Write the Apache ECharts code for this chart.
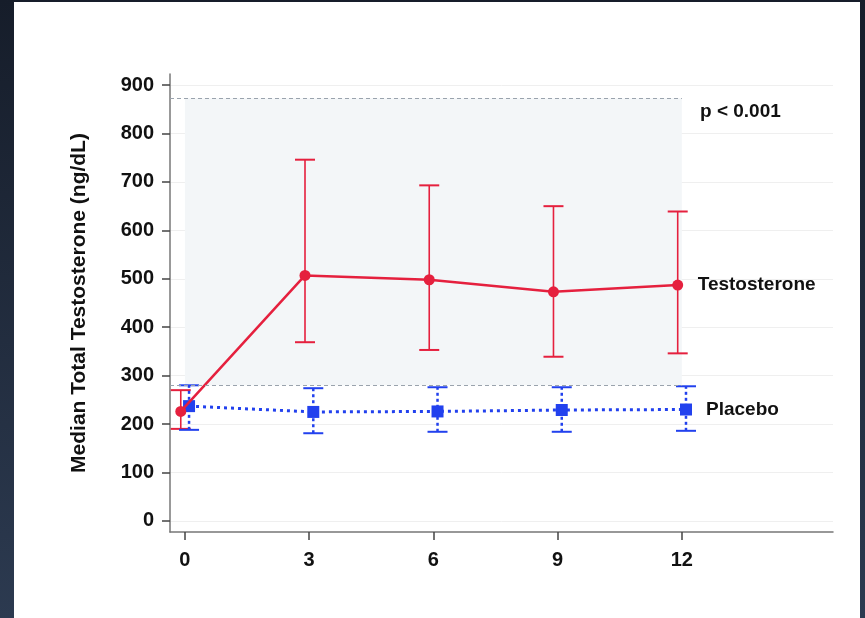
<!DOCTYPE html>
<html>
<head>
<meta charset="utf-8">
<script src="https://cdn.jsdelivr.net/npm/echarts@6/dist/echarts.min.js"></script>
<style>
html,body{
  margin:0;
  padding:0;
  width:865px;
  height:618px;
  overflow:hidden;
  background: linear-gradient(180deg,#161d2a,#2c3a50);
}
#chart{
  position:absolute;
  left:14px;
  top:2px;
  width:846px;
  height:616px;
  background:#fff;
}
</style>
</head>
<body>
<div id="chart"></div>
<script>
// months of follow-up
var months = [0, 3, 6, 9, 12];
var xTicks = [0, 3, 6, 9, 12];
var yTicks = [0, 100, 200, 300, 400, 500, 600, 700, 800, 900];

// testosterone arm: median and error bar ends (ng/dL)
var testoMedian = [226, 507, 498, 473, 487];
var testoLow = [190, 369, 353, 339, 346];
var testoHigh = [270, 746, 693, 650, 639];

// placebo arm
var placeboMedian = [237, 225, 226, 229, 230];
var placeboLow = [188, 181, 184, 184, 186];
var placeboHigh = [280, 274, 276, 276, 278];

// shaded normal range band
var bandLow = 280;
var bandHigh = 873;

var red = '#e5203e';
var blue = '#2241ee';
var dodge = 0.1;
var font = '"Liberation Sans", Arial, sans-serif';

function pts(med, shift){
  return months.map(function(m, i){ return [m + shift, med[i]]; });
}
function bars(lo, hi, shift){
  return months.map(function(m, i){ return [m + shift, lo[i], hi[i]]; });
}

function errorBar(color, dash){
  return function(params, api){
    var x = api.value(0);
    var lo = api.coord([x, api.value(1)]);
    var hi = api.coord([x, api.value(2)]);
    var w = 10;
    return {
      type:'group',
      children:[
        {type:'line', shape:{x1:lo[0], y1:lo[1], x2:hi[0], y2:hi[1]},
          style:{stroke:color, lineWidth:dash ? 2.5 : 1.6, lineDash:dash}},
        {type:'line', shape:{x1:hi[0]-w, y1:hi[1], x2:hi[0]+w, y2:hi[1]},
          style:{stroke:color, lineWidth:2}},
        {type:'line', shape:{x1:lo[0]-w, y1:lo[1], x2:lo[0]+w, y2:lo[1]},
          style:{stroke:color, lineWidth:2}}
      ]
    };
  };
}

var chart = echarts.init(document.getElementById('chart'));
chart.setOption({
  animation:false,
  textStyle:{fontFamily:font},
  grid:{left:156, top:72, width:663, height:458},
  xAxis:{
    type:'value', min:-0.36, max:15.65,
    axisLine:{onZero:false, lineStyle:{color:'#777', width:1.5}},
    axisTick:{customValues:xTicks, length:8, lineStyle:{color:'#444', width:1.5}},
    axisLabel:{customValues:xTicks, margin:18, color:'#111', fontSize:20, fontWeight:'bold', fontFamily:font},
    splitLine:{show:false}
  },
  yAxis:{
    type:'value', min:-23, max:923,
    name:'Median Total Testosterone (ng/dL)',
    nameLocation:'middle', nameGap:80,
    nameTextStyle:{color:'#111', fontSize:21, fontWeight:'bold', fontFamily:font},
    axisLine:{show:true, onZero:false, lineStyle:{color:'#777', width:1.5}},
    axisTick:{show:true, customValues:yTicks, length:8, lineStyle:{color:'#444', width:1.5}},
    axisLabel:{customValues:yTicks, margin:16, color:'#111', fontSize:20, fontWeight:'bold', fontFamily:font},
    splitLine:{show:true, lineStyle:{color:'#efefef', width:1}}
  },
  graphic:[{
    type:'text', left:686, top:100,
    style:{text:'p < 0.001', fill:'#111', font:'bold 19px ' + font}
  }],
  series:[
    {
      type:'custom', name:'testoErr', z:2,
      renderItem:errorBar(red, null),
      data:bars(testoLow, testoHigh, -dodge),
      markArea:{
        silent:true,
        itemStyle:{color:'#f3f6f8'},
        data:[[{coord:[0, bandLow]}, {coord:[12, bandHigh]}]]
      },
      markLine:{
        silent:true, symbol:'none', label:{show:false},
        lineStyle:{color:'#9aa3ad', type:[4,3], width:1},
        data:[
          [{coord:[-0.36, bandHigh]}, {coord:[12, bandHigh]}],
          [{coord:[-0.36, bandLow]}, {coord:[12, bandLow]}]
        ]
      }
    },
    {
      type:'custom', name:'placeboErr', z:2,
      renderItem:errorBar(blue, [3,3]),
      data:bars(placeboLow, placeboHigh, dodge)
    },
    {
      type:'line', name:'Placebo', z:3,
      data:pts(placeboMedian, dodge),
      symbol:'rect', symbolSize:12,
      itemStyle:{color:blue},
      lineStyle:{color:blue, width:3, type:[3,4]},
      endLabel:{show:true, formatter:'{a}', distance:20, color:'#111', fontSize:19, fontWeight:'bold', fontFamily:font}
    },
    {
      type:'line', name:'Testosterone', z:4,
      data:pts(testoMedian, -dodge),
      symbol:'circle', symbolSize:11,
      itemStyle:{color:red},
      lineStyle:{color:red, width:2.5},
      endLabel:{show:true, formatter:'{a}', distance:20, color:'#111', fontSize:19, fontWeight:'bold', fontFamily:font}
    }
  ]
});
</script>
</body>
</html>
